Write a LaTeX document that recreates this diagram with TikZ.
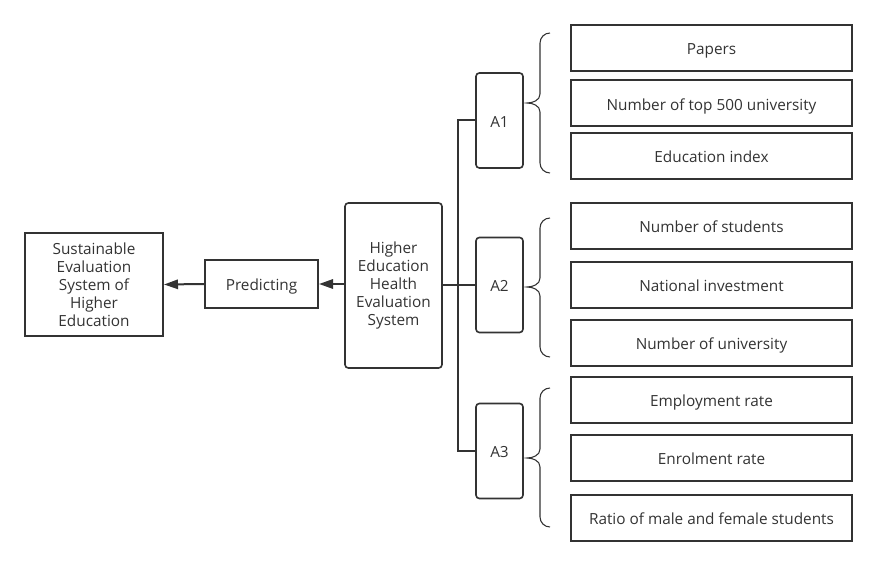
\documentclass[tikz,border=0pt]{standalone}
\usepackage{fontspec}
\setmainfont{Open Sans}
\usetikzlibrary{arrows.meta}
\definecolor{linegray}{HTML}{333333}
\definecolor{txtgray}{HTML}{333333}

\begin{document}
\begin{tikzpicture}[x=0.75pt,y=-0.75pt,
  every node/.style={font=\fontsize{11.5}{13.5}\selectfont, text=txtgray, align=center, inner sep=2pt},
  oneline/.style={text height=10pt, text depth=0.2pt},
  plainbox/.style={draw=linegray, line width=1.5pt},
  roundbox/.style={draw=linegray, line width=1.2pt, rounded corners=2.5pt},
  itembox/.style={plainbox, oneline, minimum width=210.75pt, minimum height=34.5pt},
  abox/.style={roundbox, oneline, minimum width=35.25pt, minimum height=71.25pt},
  link/.style={draw=linegray, line width=1.5pt},
  arr/.style={link, -{Triangle[length=10.5pt,width=7pt]}},
  bracestyle/.style={draw=linegray, line width=0.8pt}]
% the page is 877 x 566 pixels, one unit per pixel
\useasboundingbox (0,0) rectangle (877,566);
% the main chain, from right to left
\node[plainbox, minimum width=103.5pt, minimum height=76.5pt] (sust) at (94,284.5)
  {Sustainable\\Evaluation\\System of\\Higher\\Education};
\node[plainbox, oneline, minimum width=84.75pt, minimum height=36pt] (pred) at (261.5,284) {Predicting};
\node[roundbox, minimum width=72.75pt, minimum height=123.75pt] (hehes) at (393.5,285.5)
  {Higher\\Education\\Health\\Evaluation\\System};
\draw[arr] (hehes.west |- pred.east) -- (pred.east);
\draw[arr] (pred.west) -- (sust.east);
% the three groups of indicators
\node[abox] (a1) at (499.5,120.5) {A1};
\node[abox] (a2) at (499.5,285) {A2};
\node[abox] (a3) at (499.5,451) {A3};
\coordinate (trunk) at (458,285);
\draw[link] (hehes.east |- a2.west) -- (a2.west);
\draw[link] (a1.west) -| (trunk) |- (a3.west);
% one curly brace in front of each group
\foreach \top/\tip/\bot in {33/103/173, 218/287/357, 388/458/527} {
  \draw[bracestyle] (550,\top) to[out=180,in=90] (540,{\top+10}) -- (540,{\tip-9})
    to[out=-90,in=0] (527,\tip) to[out=0,in=90] (540,{\tip+9}) -- (540,{\bot-10})
    to[out=-90,in=180] (550,\bot);
}
% the indicators themselves
\foreach \n/\y/\txt in {1/48/Papers, 2/103.5/Number of top 500 university,
    3/156/Education index, 4/226/Number of students, 5/285/National investment,
    6/343/Number of university, 7/400/Employment rate, 8/458/Enrolment rate,
    9/518/Ratio of male and female students} {
  \node[itembox] (item\n) at (711.5,\y) {\txt};
}
\end{tikzpicture}
\end{document}
